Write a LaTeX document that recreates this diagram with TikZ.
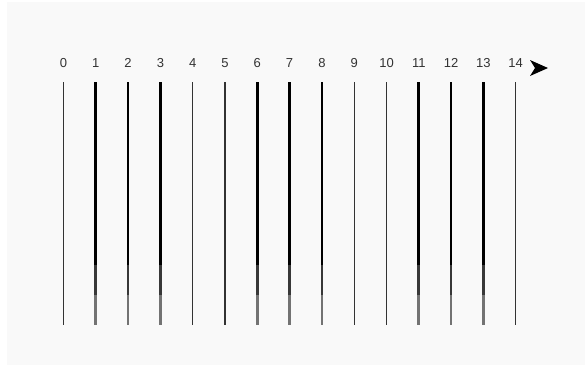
\documentclass[tikz,border=0pt]{standalone}
\usepackage{fontspec}
\setmainfont{Liberation Sans}
\begin{document}
\begin{tikzpicture}[x=1pt,y=-1pt,
  lab/.style={font=\fontsize{13}{15}\selectfont, text=black!80, inner sep=0pt, anchor=center},
  thinbar/.style={draw=black!80, line width=1.4pt},
  thickbar/.style={draw=black, line width=2.7pt},
  midbar/.style={draw=black!78, line width=2.7pt},
  lowbar/.style={draw=black!55, line width=2.7pt}]
\useasboundingbox (0,0) rectangle (585,365);
\fill[white] (0,0) rectangle (585,365);
\fill[black!2.5] (7,2) rectangle (585,365);
\foreach \i in {0,...,14} {
  \pgfmathsetmacro{\xx}{63.5+32.3*\i}
  \node[lab] (l\i) at (\xx,63) {\i};
  \coordinate (t\i) at (\xx,82);
  \coordinate (a\i) at (\xx,265);
  \coordinate (b\i) at (\xx,295);
  \coordinate (e\i) at (\xx,325);
}
\foreach \i in {0,4,5,9,10,14} {
  \draw[thinbar] (t\i) -- (e\i);
}
\foreach \i in {1,2,3,6,7,8,11,12,13} {
  \draw[thickbar] (t\i) -- (a\i);
  \draw[midbar] (a\i) -- (b\i);
  \draw[lowbar] (b\i) -- (e\i);
}
\fill[black] (530,60) -- (548,68) -- (530,76) -- (535,68) -- cycle;
\end{tikzpicture}
\end{document}
